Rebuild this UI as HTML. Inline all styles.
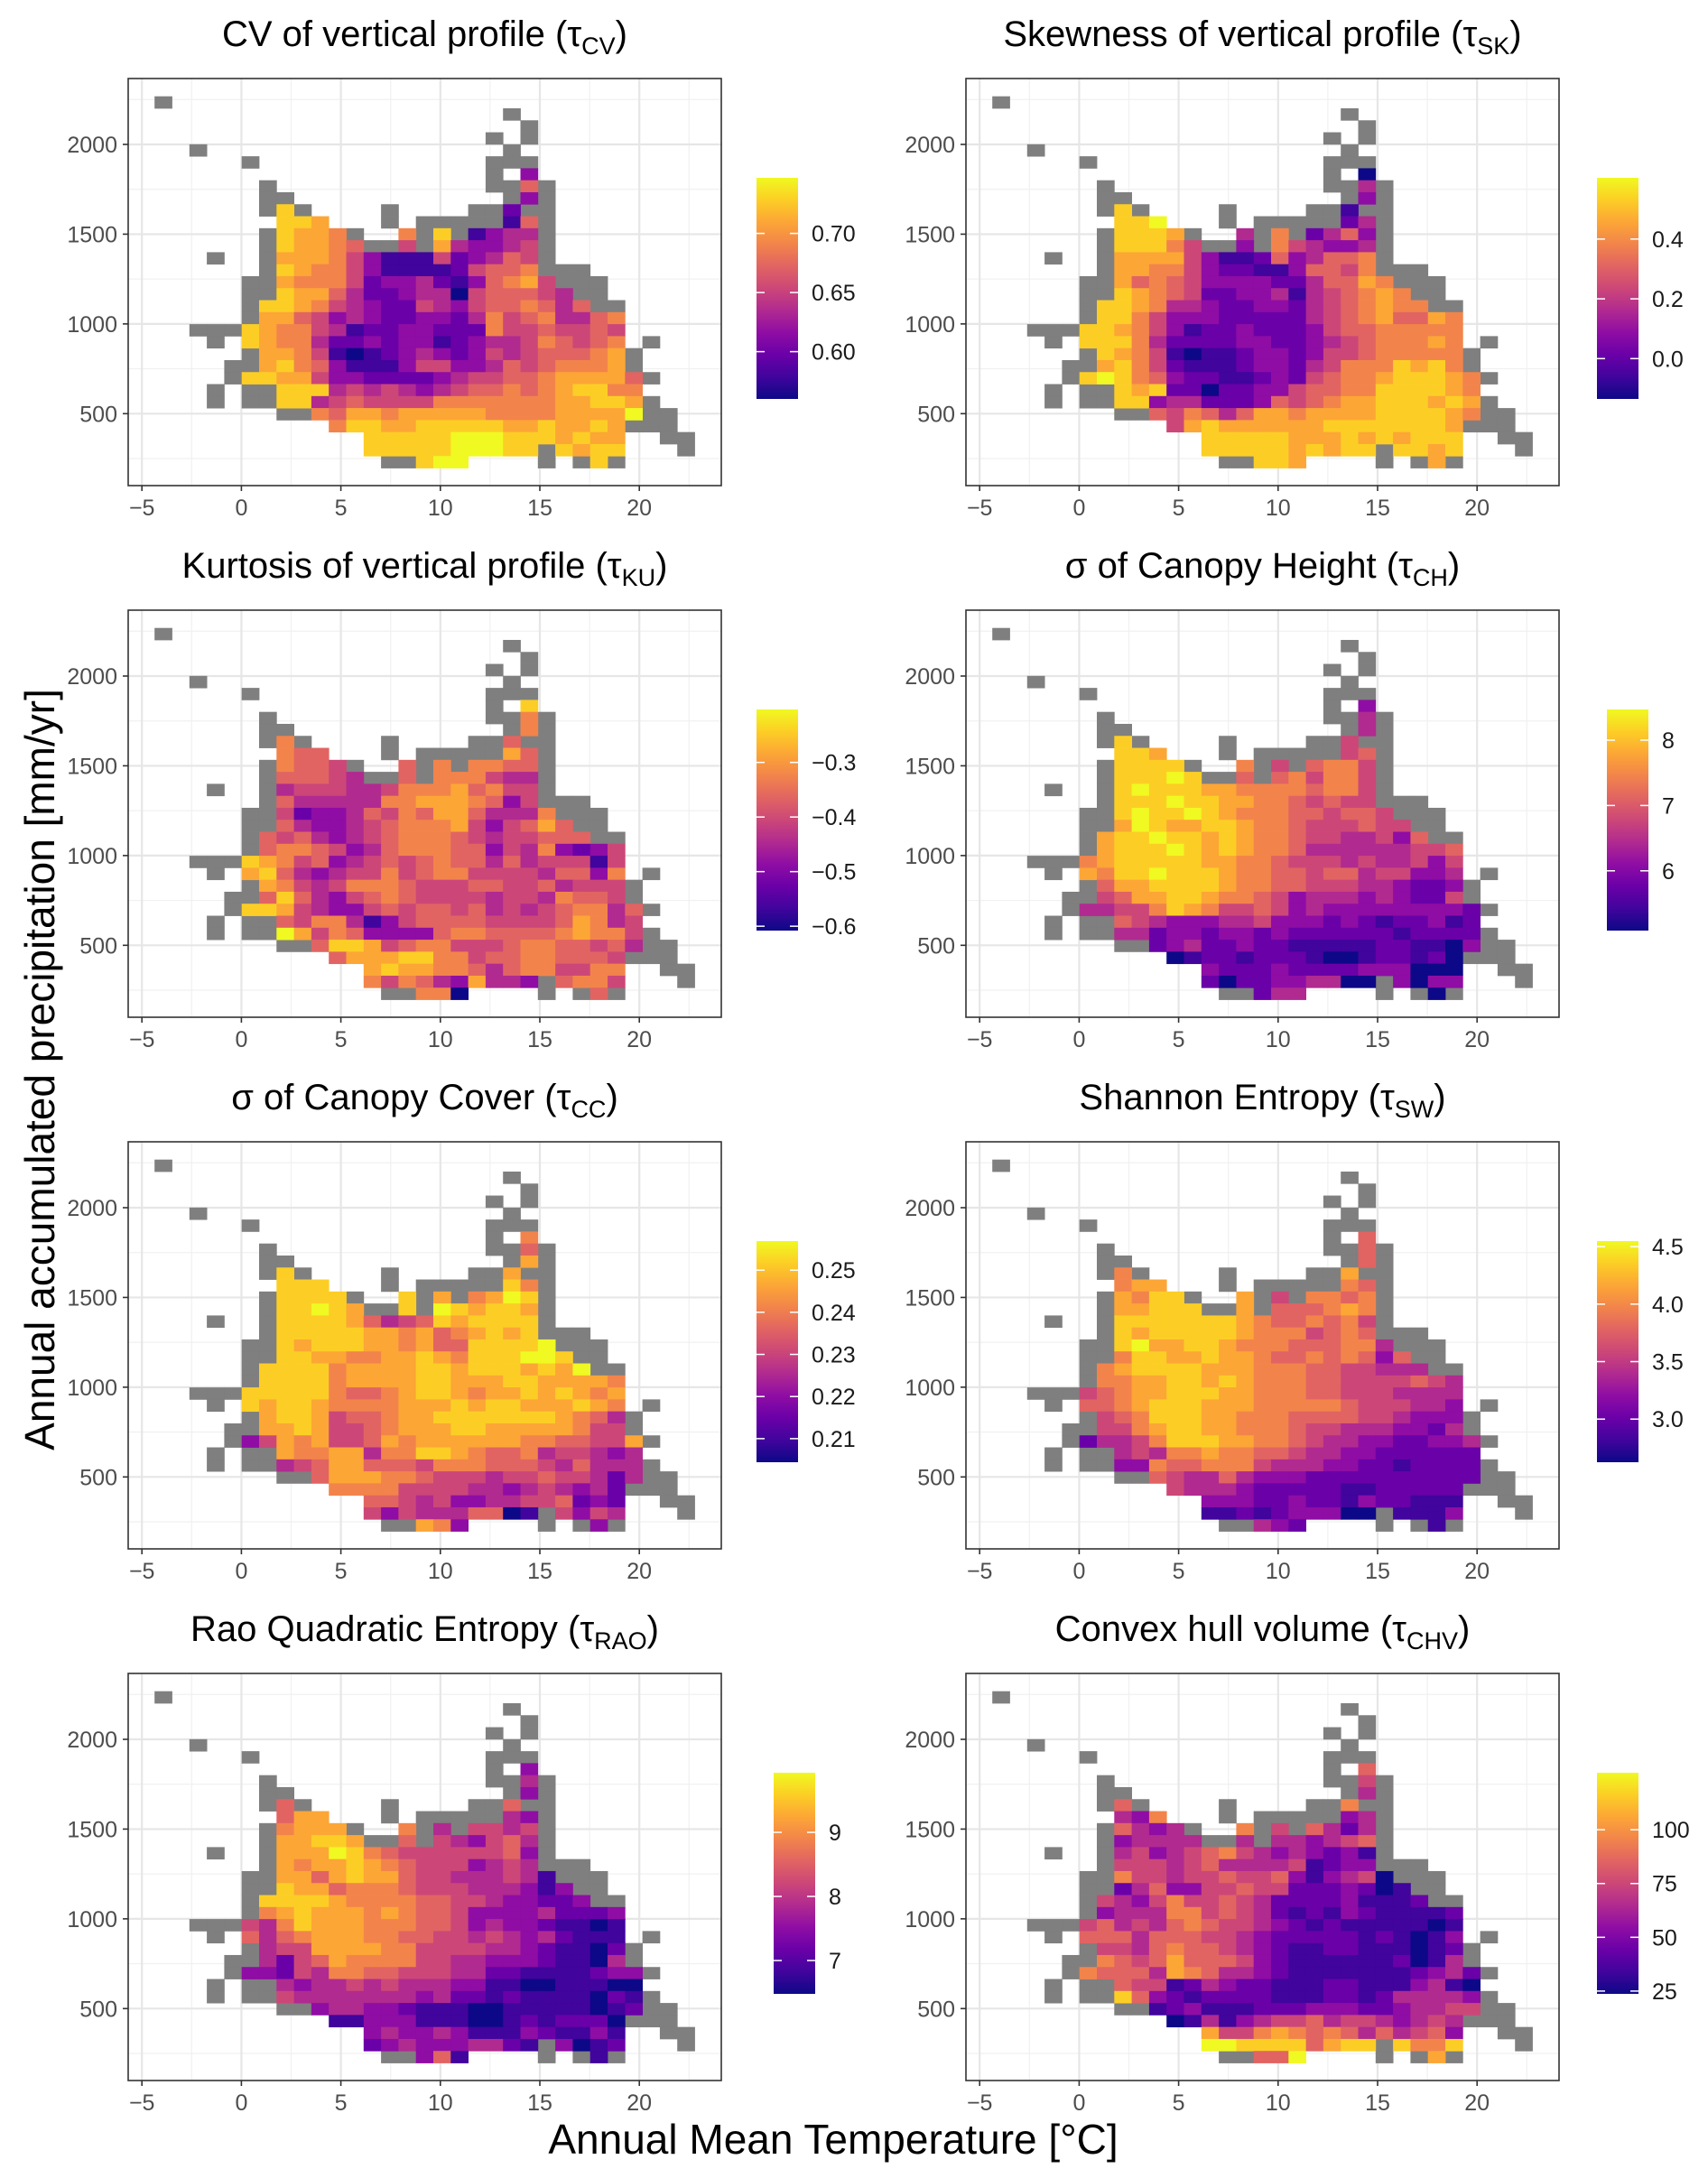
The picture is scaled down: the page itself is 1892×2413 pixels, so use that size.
<!DOCTYPE html>
<html><head><meta charset="utf-8">
<style>
html,body{margin:0;padding:0;background:#fff;}
svg{display:block;font-family:"Liberation Sans",Arial,sans-serif;}
</style></head>
<body>
<svg id="fig" xmlns="http://www.w3.org/2000/svg" width="1892" height="2413" viewBox="0 0 1892 2413">
<defs>
<linearGradient id="plasmaGrad" x1="0" y1="1" x2="0" y2="0">
<stop offset="0" stop-color="#0d0887"/><stop offset="0.1" stop-color="#41049d"/><stop offset="0.2" stop-color="#6a00a8"/><stop offset="0.3" stop-color="#8f0da4"/><stop offset="0.4" stop-color="#b12a90"/><stop offset="0.5" stop-color="#cc4778"/><stop offset="0.6" stop-color="#e16462"/><stop offset="0.7" stop-color="#f2844b"/><stop offset="0.8" stop-color="#fca636"/><stop offset="0.9" stop-color="#fcce25"/><stop offset="1" stop-color="#f0f921"/>
</linearGradient>
</defs>
<text x="0" y="0" transform="translate(60,1185) rotate(-90)" text-anchor="middle" font-size="46" fill="#000">Annual accumulated precipitation [mm/yr]</text>
<text x="923" y="2386" text-anchor="middle" font-size="46" fill="#000">Annual Mean Temperature [°C]</text>
</svg>
<script>
const T_START = -4.365, T_STEP = 0.8757;
const P_START = 2268, P_STEP = 66.8;
const X_TICKS = [-5, 0, 5, 10, 15, 20];
const X_MINOR = [-2.5, 2.5, 7.5, 12.5, 17.5, 22.5];
const Y_TICKS = [500, 1000, 1500, 2000];
const Y_MINOR = [250, 750, 1250, 1750, 2250];

const GRAY = [[0],[20],[21],[19,21],[2,20],[5,19,20,21],[19],[6,19,20,22],[6,7,20,22],[6,8,13,18,19,21,22],[13,15,16,17,18,19,22],[6,11,15,17,22],[6,12,13,15,22],[3,6,22],[6,22,23,24],[5,6,23,24,25],[5,6,24,25],[5,25,26],[5],[2,3,4],[3,28],[5,27],[4,5,27],[4,28],[3,5,6],[3,5,6,28],[7,8,28,29],[27,28,29],[29,30],[22,30],[13,14,22,24,26]];
const SPANS = [[],[],[],[],[],[],[[21,21]],[[21,21]],[[21,21]],[[7,7],[20,20]],[[7,9],[20,21]],[[7,10],[14,14],[16,16],[18,21]],[[7,11],[14,14],[16,21]],[[7,21]],[[7,21]],[[7,22]],[[7,23]],[[6,24]],[[6,26]],[[5,26]],[[5,26]],[[6,26]],[[6,26]],[[5,27]],[[7,27]],[[7,27]],[[9,27]],[[10,26]],[[12,26]],[[12,21],[23,26]],[[15,17],[25,25]]];

const V_CV = ["","","","","","","3","6","3","9 2","998 16","9887 7 9 1344","98876 5 843345","888753111523465","987753111125667","8777523342136785","98864223440566654","9987543225435667646","886534322332475674467","9877541223322275565565","9877422323312344576567","887510123432354566678","897631113553346567778","99885332222345566788886","999454543456676789977","994565555777777788998","768878888877778888a","79988999998898898","99999aaa9998988","99999aaa999899","9aa9"];
const V_SK = ["","","","","","","0","4","3","9 1","99a 24","9998 4 7 2463","99975 3 754334","888853112634667","887753221136657","8676533332246687","98765223341456787","9987443223324567877","997533322222456786687","9987531223222356677777","9997422223322345677787","987510112332355677777","897521112332457779897","9a976322112325677899987","989220223356677999987","993442223656788999898","6576468878888999987","58988888899999998","999998889898999","99999898999989","9988"];
const V_KU = ["","","","","","","9","7","7","7 6","766 86","7665 6 7 7766","66654 6 777544","455544577786755","644444778887635","5233465768864447","64334567778535686","6564345677765455666","677653467776635473235","9875634565676646455515","8964345575677555546637","875457776555665564555","696435676555545547665","99854335656656454567746","657741356666555568745","a85763333677666678775","6998567755567766564","68889977566776665","898877646775577","75764384436775","7706"];
const V_CH = ["","","","","","","3","4","4","9 5","998 56","9999 7 5 6775","999a9 6 675775","9a9998877776775","999a99887765655","9a99a98777665665","8a988998776555655","899a998987765544536","8999a9898776444444556","7899999887765554544535","8799a99987766566455334","688999987766555443223","568899877653444343225","44557987556534333333332","654333445333232122312","442332332322222212222","2342232211111221103","01221222100122120","322232222333000","20223344003033","2440"];
const V_CC = ["","","","","","","7","6","8","9 8","999 97","9999 9 8 78a9","99a98 9 a98998","999986456989999","999998878678989","989998878669999a","99887788987999aa9","999978888998999898a","999978888998889988887","9999976678998788989878","9899877778889899888987","899856678899999998764","889855678889988888755","35878556878888887766558","877884779987667455434","456886665777666546444","6888776555455655424","77775555443454342","665453344556232","53544466015354","8733"];
const V_SW = ["","","","","","","6","6","6","7 8","788 76","8799 8 5 7767","88999 8 666787","999999987667675","989999987775676","9a88998777666774","79988988766767636","7899998887776655444","778899898777665555654","5678899988777665554444","6678999888777776555443","567999887776666554333","557899887776554443324","24457999887765443322334","454778776654433222222","337667775444332212222","6544643332222222222","54443222221122222","333223221322111","11212333001113","4321"];
const V_RAO = ["","","","","","","3","4","3","6 6","688 43","7888 7 4 5545","88998 6 543564","888a97655555563","878898765553454","8868988655444541","98867776555444313","9999877776655433223","789888787665333342223","5479888777665343321101","6467888776655454342111","455888877555544321102","425687777554433321104","33254776655544221111233","434454544433110011100","544444443422121111021","3443321110011111012","11333111001212220","343343111321131","23433344213012","3611"];
const V_CHV = ["","","","","","","6","5","4","6 7","437 34","6434 7 5 6424","34444 4 443456","453456754343231","555456444451233","7554556556313450","24633556552223201","5435755654222231112","344477565421213211112","5645467655432121111101","6664666554322222121013","554676654321122111012","765686665321111112014","76664876443211111112342","655124322111221113410","963212222111221244443","1231112223332234455","01413455645543454","855787676464563","aa999968999779","66a8"];

const LEG_MIN = [0.560, -0.135, -0.608, 5.085, 0.2044, 2.625, 6.48, 23.7];
const LEG_MAX = [0.747, 0.605, -0.203, 8.47, 0.2569, 4.548, 9.93, 126.5];
const LEG_TICKS = [[0.60,0.65,0.70],[0.0,0.2,0.4],[-0.6,-0.5,-0.4,-0.3],[6,7,8],[0.21,0.22,0.23,0.24,0.25],[3.0,3.5,4.0,4.5],[7,8,9],[25,50,75,100]];
const LEG_LABELS = [["0.60","0.65","0.70"],["0.0","0.2","0.4"],["−0.6","−0.5","−0.4","−0.3"],["6","7","8"],["0.21","0.22","0.23","0.24","0.25"],["3.0","3.5","4.0","4.5"],["7","8","9"],["25","50","75","100"]];
const TITLES = ["CV of vertical profile (τ","Skewness of vertical profile (τ","Kurtosis of vertical profile (τ","σ of Canopy Height  (τ","σ of Canopy Cover  (τ","Shannon Entropy (τ","Rao Quadratic Entropy (τ","Convex hull volume (τ"];
const SUBS = ["CV","SK","KU","CH","CC","SW","RAO","CHV"];
const VALUES = [V_CV, V_SK, V_KU, V_CH, V_CC, V_SW, V_RAO, V_CHV];
const NAMES = ["cv","skewness","kurtosis","canopy-height-sd","canopy-cover-sd","shannon","rao","convex-hull"];

const NS = "http://www.w3.org/2000/svg";
const svg = document.getElementById("fig");
const STOPS = ["#0d0887","#41049d","#6a00a8","#8f0da4","#b12a90","#cc4778","#e16462","#f2844b","#fca636","#fcce25","#f0f921"];
function hex(h){return [parseInt(h.substr(1,2),16),parseInt(h.substr(3,2),16),parseInt(h.substr(5,2),16)];}
function plasma(t){
  t=Math.max(0,Math.min(1,t));const f=t*10;const i=Math.min(9,Math.floor(f));const u=f-i;
  const a=hex(STOPS[i]),b=hex(STOPS[i+1]);
  return "rgb("+a.map((v,k)=>Math.round(v+(b[k]-v)*u)).join(",")+")";
}
function el(tag, attrs, parent){
  const e=document.createElementNS(NS,tag);
  for(const k in attrs) e.setAttribute(k,attrs[k]);
  (parent||svg).appendChild(e); return e;
}
const PW=657, PH=451;
for(let p=0;p<8;p++){
  const col=p%2, row=Math.floor(p/2);
  const L=142+col*928, T=87+row*589;
  const xs=t=>L+15.2+22.04*(t+5);
  const ys=v=>T+371.3-(v-500)*0.19887;
  const g=el("g",{});
  
  
  el("rect",{x:L,y:T,width:PW,height:PH,fill:"#fff"},g);
  X_MINOR.forEach(v=>el("line",{x1:xs(v),x2:xs(v),y1:T,y2:T+PH,stroke:"#f0f0f0","stroke-width":1.2},g));
  Y_MINOR.forEach(v=>el("line",{x1:L,x2:L+PW,y1:ys(v),y2:ys(v),stroke:"#f0f0f0","stroke-width":1.2},g));
  X_TICKS.forEach(v=>el("line",{x1:xs(v),x2:xs(v),y1:T,y2:T+PH,stroke:"#e6e6e6","stroke-width":2.2},g));
  Y_TICKS.forEach(v=>el("line",{x1:L,x2:L+PW,y1:ys(v),y2:ys(v),stroke:"#e6e6e6","stroke-width":2.2},g));
  const cellX=c=>xs(T_START+c*T_STEP);
  const cellY=r=>ys(P_START-r*P_STEP);
  for(let r=0;r<GRAY.length;r++){
    GRAY[r].forEach(c=>{
      const e=el("rect",{x:cellX(c),y:cellY(r),width:cellX(c+1)-cellX(c)+0.4,height:cellY(r+1)-cellY(r)+0.4,fill:"#7f7f7f"},g);
      
      
    });
  }
  const vals=VALUES[p];
  for(let r=0;r<SPANS.length;r++){
    const s=(vals[r]||"").replace(/\s/g,"");let k=0;
    SPANS[r].forEach(sp=>{
      for(let c=sp[0];c<=sp[1];c++){
        const ch=s[Math.min(k,s.length-1)]||"5";k++;
        const lv=parseInt(ch,16);
        const e=el("rect",{x:cellX(c),y:cellY(r),width:cellX(c+1)-cellX(c)+0.4,height:cellY(r+1)-cellY(r)+0.4,fill:plasma(lv/10)},g);
        
        
      }
    });
  }
  el("rect",{x:L,y:T,width:PW,height:PH,fill:"none",stroke:"#333","stroke-width":1.6},g);
  X_TICKS.forEach(v=>{
    el("line",{x1:xs(v),x2:xs(v),y1:T+PH,y2:T+PH+6,stroke:"#333","stroke-width":1.6},g);
    const t=el("text",{x:xs(v),y:T+PH+33,"text-anchor":"middle","font-size":25,fill:"#4d4d4d"},g);
    t.textContent=v<0?"−"+Math.abs(v):String(v);
    
    
  });
  Y_TICKS.forEach(v=>{
    el("line",{x1:L-6,x2:L,y1:ys(v),y2:ys(v),stroke:"#333","stroke-width":1.6},g);
    const t=el("text",{x:L-12,y:ys(v)+9,"text-anchor":"end","font-size":25,fill:"#4d4d4d"},g);
    t.textContent=String(v);
    
    
  });
  const tt=el("text",{x:L+PW/2,y:T-36,"text-anchor":"middle","font-size":40,fill:"#000"},g);
  
  
  tt.appendChild(document.createTextNode(TITLES[p]));
  const sub=el("tspan",{"font-size":27,dy:9},tt);sub.textContent=SUBS[p];
  const cl=el("tspan",{dy:-9},tt);cl.textContent=")";
  const bx=(col===0?838:1769)+(p===6?19:0)+(p===3?11:0), by=T+110, bw=46, bh=245;
  const bar=el("rect",{x:bx,y:by,width:bw,height:bh,fill:"url(#plasmaGrad)"},g);
  
  
  const lo=LEG_MIN[p], hi=LEG_MAX[p];
  LEG_TICKS[p].forEach((v,i)=>{
    const yy=by+(hi-v)/(hi-lo)*bh;
    el("line",{x1:bx,x2:bx+9,y1:yy,y2:yy,stroke:"#fff","stroke-width":1.5},g);
    el("line",{x1:bx+bw-9,x2:bx+bw,y1:yy,y2:yy,stroke:"#fff","stroke-width":1.5},g);
    const t=el("text",{x:bx+bw+15,y:yy+9,"font-size":25,fill:"#1a1a1a"},g);
    t.textContent=LEG_LABELS[p][i];
    
    
  });
}
</script>
</body></html>
